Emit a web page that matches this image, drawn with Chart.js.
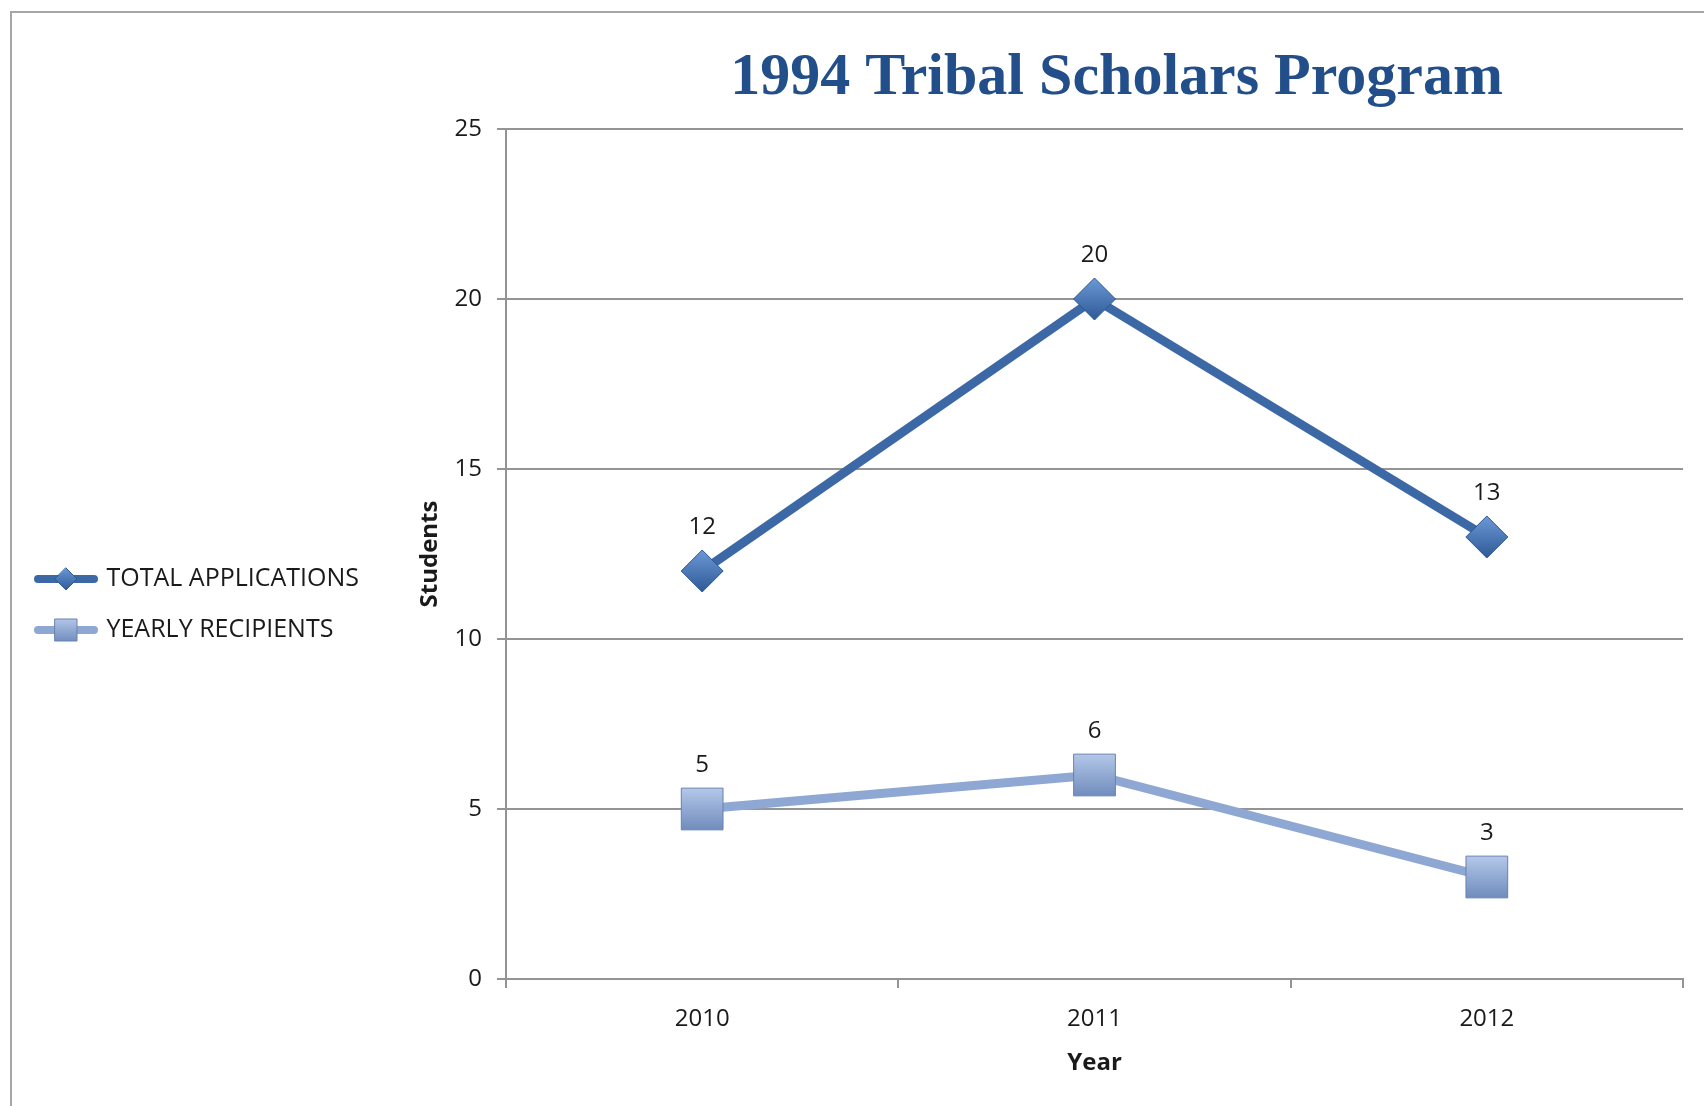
<!DOCTYPE html>
<html><head><meta charset="utf-8">
<script src="https://cdn.jsdelivr.net/npm/chart.js@4.4.1/dist/chart.umd.min.js"></script>
<style>
html,body{margin:0;padding:0;background:#fff;overflow:hidden;}
#wrap{position:relative;width:1704px;height:1106px;overflow:hidden;}
#frame{position:absolute;left:10px;top:11px;width:2000px;height:2000px;border:2px solid #a6a6a6;pointer-events:none;}
canvas{display:block;}
</style></head><body>
<div id="wrap"><canvas id="c" width="1704" height="1106"></canvas><div id="frame"></div></div>
<script>
// ---- data ----
const categories = ['2010', '2011', '2012'];
const totalApplications = [12, 20, 13];
const yearlyRecipients = [5, 6, 3];
const yTicks = [0, 5, 10, 15, 20, 25];
const seriesNames = ['TOTAL APPLICATIONS', 'YEARLY RECIPIENTS'];
const chartTitle = '1994 Tribal Scholars Program';
const xTitle = 'Year';
const yTitle = 'Students';

// ---- styling ----
Chart.defaults.font.family = "'Open Sans', sans-serif";
const axisColor = '#949494';
const textColor = '#1a1a1a';

function markerFill(top, bottom, half) {
  return (c) => {
    if (c.type !== 'data') return bottom;
    const sx = c.chart.scales.x, sy = c.chart.scales.y;
    if (!sx || !sy) return bottom;
    const px = sx.getPixelForValue(c.dataIndex);
    const py = sy.getPixelForValue(c.raw);
    if (!isFinite(px) || !isFinite(py)) return bottom;
    const g = c.chart.ctx.createLinearGradient(px, py - half, px, py + half);
    g.addColorStop(0, top);
    g.addColorStop(1, bottom);
    return g;
  };
}

function legendIcon(lineColor, kind, c1, c2, border) {
  const cv = document.createElement('canvas');
  cv.width = 64; cv.height = 28;
  const g = cv.getContext('2d');
  g.lineCap = 'round'; g.strokeStyle = lineColor; g.lineWidth = 8;
  g.beginPath(); g.moveTo(4, 14); g.lineTo(60, 14); g.stroke();
  const gr = g.createLinearGradient(0, 2, 0, 26);
  gr.addColorStop(0, c1); gr.addColorStop(1, c2);
  g.fillStyle = gr; g.strokeStyle = border; g.lineWidth = 1;
  g.beginPath();
  if (kind === 'diamond') { g.moveTo(32, 3); g.lineTo(43, 14); g.lineTo(32, 25); g.lineTo(21, 14); g.closePath(); }
  else { g.rect(21, 3, 22, 22); }
  g.fill(); g.stroke();
  return cv;
}
const icons = [
  legendIcon('#3c69a6', 'diamond', '#6b98d6', '#2e5b97', '#2d5890'),
  legendIcon('#8ea8d3', 'square', '#b4c8e8', '#6f8cbd', '#6682b2')
];

const dataLabels = {
  id: 'dataLabels',
  afterDatasetsDraw(chart) {
    const ctx = chart.ctx;
    ctx.save();
    ctx.font = "24px 'Open Sans', sans-serif";
    ctx.fillStyle = textColor;
    ctx.textAlign = 'center';
    ctx.textBaseline = 'middle';
    chart.data.datasets.forEach((ds, i) => {
      chart.getDatasetMeta(i).data.forEach((pt, j) => {
        ctx.fillText(String(ds.data[j]), pt.x, pt.y - 44);
      });
    });
    ctx.restore();
  }
};

const titleShift = {
  id: 'titleShift',
  afterLayout(chart) {
    const t = chart.titleBlock;
    if (t) { t.left += 22; t.right += 22; }
  }
};

new Chart(document.getElementById('c'), {
  type: 'line',
  data: {
    labels: categories,
    datasets: [
      {
        label: seriesNames[0], data: totalApplications,
        borderColor: '#3c69a6', backgroundColor: '#3c69a6', borderWidth: 9, tension: 0,
        pointStyle: 'rectRot', pointRadius: 21, pointHoverRadius: 21,
        pointBackgroundColor: markerFill('#6b98d6', '#2e5b97', 21),
        pointBorderColor: '#2d5890', pointBorderWidth: 1
      },
      {
        label: seriesNames[1], data: yearlyRecipients,
        borderColor: '#8ea8d3', backgroundColor: '#8ea8d3', borderWidth: 9, tension: 0,
        pointStyle: 'rect', pointRadius: 29.5, pointHoverRadius: 29.5,
        pointBackgroundColor: markerFill('#b4c8e8', '#6f8cbd', 21),
        pointBorderColor: '#6682b2', pointBorderWidth: 1
      }
    ]
  },
  options: {
    responsive: false,
    animation: false,
    layout: { autoPadding: false, padding: { left: 12, top: 0, right: 21, bottom: 0 } },
    plugins: {
      title: {
        display: true, text: chartTitle, fullSize: false, color: '#224f8a',
        font: { family: "'Liberation Serif', serif", size: 60, weight: 'bold', lineHeight: 1.2 },
        padding: { top: 42, bottom: 15 }
      },
      legend: {
        position: 'left', align: 'center',
        title: { display: true, text: '', font: { size: 12, lineHeight: 1.2 }, padding: { top: 0, bottom: 88.6 } },
        labels: {
          usePointStyle: true, pointStyleWidth: 56, padding: 26, color: textColor,
          font: { size: 25 },
          generateLabels(chart) {
            const items = Chart.defaults.plugins.legend.labels.generateLabels(chart);
            items.forEach((it, i) => { it.pointStyle = icons[i]; });
            return items;
          }
        }
      },
      tooltip: { enabled: false }
    },
    scales: {
      x: {
        type: 'category', offset: true,
        grid: { display: true, drawOnChartArea: false, drawTicks: true, tickLength: 9, offset: true, color: axisColor, lineWidth: 2 },
        border: { display: true, color: axisColor, width: 2 },
        ticks: { color: textColor, font: { size: 24 }, padding: 17, maxRotation: 0 },
        title: { display: true, text: xTitle, color: textColor, font: { size: 24, weight: 'bold' }, padding: { top: 0, bottom: 28.5 } },
        afterFit: (s) => { s.height = 127; }
      },
      y: {
        min: yTicks[0], max: yTicks[yTicks.length - 1],
        ticks: { stepSize: yTicks[1] - yTicks[0], color: textColor, font: { size: 24 }, padding: 15 },
        grid: { color: axisColor, lineWidth: 2, tickLength: 9, drawTicks: true },
        border: { display: true, color: axisColor, width: 2 },
        title: { display: true, text: yTitle, color: textColor, font: { size: 24, weight: 'bold' }, padding: { top: 47, bottom: 0 } },
        afterFit: (s) => { s.width = 506 - 12 - s.chart.legend.width; }
      }
    }
  },
  plugins: [dataLabels, titleShift]
});
</script>
</body></html>
